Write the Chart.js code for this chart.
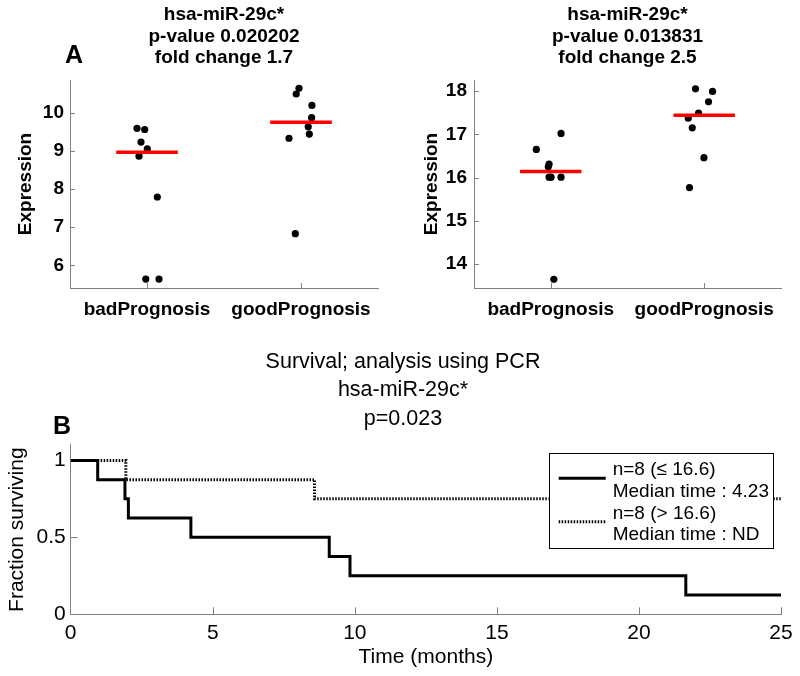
<!DOCTYPE html>
<html><head><meta charset="utf-8">
<script src="https://cdn.jsdelivr.net/npm/chart.js@4/dist/chart.umd.min.js"></script>
<style>
html,body{margin:0;padding:0;background:#fff;overflow:hidden;}
#wrap{position:relative;width:800px;height:676px;background:#fff;}
canvas{position:absolute;}
.panel{position:absolute;font:bold 25px "Liberation Sans",Arial,sans-serif;line-height:1;color:#000;}
</style></head><body>
<div id="wrap">
<canvas id="c1" width="400" height="330" style="left:0;top:0;width:400px;height:330px"></canvas>
<canvas id="c2" width="400" height="330" style="left:400px;top:0;width:400px;height:330px"></canvas>
<canvas id="c3" width="800" height="336" style="left:0;top:340px;width:800px;height:336px"></canvas>
<div class="panel" style="left:65px;top:42px">A</div>
<div class="panel" style="left:53px;top:413px">B</div>
</div>
<script>
// ---------- data ----------
const categories = ['badPrognosis', 'goodPrognosis'];

// panel A, left: microarray expression
const arrayTitle = ['hsa-miR-29c*', 'p-value 0.020202', 'fold change 1.7'];
const arrayBadJitter = [0.935, 0.985, 0.961, 1.002, 0.948, 1.067, 0.992, 1.078];
const arrayBadExpr   = [9.59, 9.56, 9.23, 9.05, 8.86, 7.79, 5.64, 5.64];
const arrayGoodJitter = [1.987, 1.969, 2.071, 2.069, 2.047, 2.054, 1.922, 1.963];
const arrayGoodExpr   = [10.64, 10.49, 10.19, 9.87, 9.63, 9.44, 9.33, 6.83];
const arrayMedians = [8.96, 9.75];
const arrayYTicks = [6, 7, 8, 9, 10];

// panel A, right: PCR expression
const pcrTitle = ['hsa-miR-29c*', 'p-value 0.013831', 'fold change 2.5'];
const pcrBadJitter = [1.067, 0.906, 0.989, 0.984, 0.989, 1.002, 1.067, 1.020];
const pcrBadExpr   = [17.02, 16.65, 16.31, 16.25, 16.01, 16.01, 16.01, 13.65];
const pcrGoodJitter = [1.943, 2.054, 2.028, 1.963, 1.896, 1.922, 1.998, 1.904];
const pcrGoodExpr   = [18.05, 17.99, 17.75, 17.49, 17.37, 17.15, 16.46, 15.77];
const pcrMedians = [16.14, 17.44];
const pcrYTicks = [14, 15, 16, 17, 18];

// panel B: Kaplan-Meier survival
const survTitle = ['Survival; analysis using PCR', 'hsa-miR-29c*', 'p=0.023'];
const lowTimes = [0, 0.95, 1.91, 2.03, 4.23, 9.1, 9.83, 21.65, 25];
const lowSurv  = [1, 0.875, 0.75, 0.625, 0.5, 0.375, 0.25, 0.125, 0.125];
const highTimes = [0, 1.94, 8.58, 25];
const highSurv  = [1, 0.875, 0.75, 0.75];
const lowLegend  = ['n=8 (\u2264 16.6)', 'Median time : 4.23'];
const highLegend = ['n=8 (> 16.6)', 'Median time : ND'];
const timeTicks = [0, 5, 10, 15, 20, 25];
const survTicks = [0, 0.5, 1];

// ---------- setup ----------
const FONT = '"Liberation Sans", Arial, Helvetica, sans-serif';
Chart.defaults.font.family = FONT;
Chart.defaults.color = '#000';
const AXIS = '#808080';
const pts = (xs, ys) => xs.map((x, i) => ({x, y: ys[i]}));

const inTicks = {
  id: 'inTicks',
  beforeDatasetsDraw(chart, args, o) {
    const {ctx, chartArea: a, scales: {x, y}} = chart;
    ctx.save();
    ctx.strokeStyle = o.color; ctx.lineWidth = 1;
    ctx.beginPath();
    x.ticks.forEach(t => {
      const p = Math.round(x.getPixelForValue(t.value)) + 0.5;
      if (p > a.left + 2) { ctx.moveTo(p, a.bottom); ctx.lineTo(p, a.bottom - o.len); }
    });
    y.ticks.forEach(t => {
      const p = Math.round(y.getPixelForValue(t.value)) + 0.5;
      if (p < a.bottom - 2) { ctx.moveTo(a.left, p); ctx.lineTo(a.left + o.len, p); }
    });
    ctx.stroke();
    ctx.restore();
  }
};

const kmLegend = {
  id: 'kmLegend',
  afterDatasetsDraw(chart, args, o) {
    const {ctx, chartArea: a} = chart;
    const ds = chart.data.datasets;
    ctx.save();
    ctx.font = o.fontSize + 'px ' + FONT;
    let tw = 0;
    ds.forEach(d => d.label.forEach(l => { tw = Math.max(tw, ctx.measureText(l).width); }));
    const rows = ds.reduce((n, d) => n + d.label.length, 0);
    const w = o.padL + o.sample + o.gap + tw + o.padR;
    const h = o.padT + rows * o.step + o.padB;
    const x0 = a.right - o.margin - w, y0 = a.top + o.margin;
    ctx.fillStyle = '#fff';
    ctx.fillRect(x0, y0, w, h);
    ctx.strokeStyle = '#000'; ctx.lineWidth = 1;
    ctx.strokeRect(Math.round(x0) + 0.5, Math.round(y0) + 0.5, Math.round(w), Math.round(h));
    let r = 0;
    ds.forEach(d => {
      const cy = y0 + o.padT + (r + d.label.length / 2) * o.step - o.lift;
      ctx.beginPath();
      ctx.setLineDash(d.borderDash || []);
      ctx.lineWidth = d.borderWidth; ctx.strokeStyle = d.borderColor;
      ctx.moveTo(x0 + o.padL, cy); ctx.lineTo(x0 + o.padL + o.sample, cy);
      ctx.stroke();
      ctx.setLineDash([]);
      ctx.fillStyle = '#000'; ctx.textBaseline = 'middle'; ctx.textAlign = 'left';
      d.label.forEach(l => {
        ctx.fillText(l, x0 + o.padL + o.sample + o.gap, y0 + o.padT + (r + 0.5) * o.step);
        r++;
      });
    });
    ctx.restore();
  }
};

function exprChart(id, c) {
  const half = 0.2;
  const medLine = (i) => ({
    type: 'line',
    data: [{x: i + 1 - half, y: c.med[i]}, {x: i + 1 + half, y: c.med[i]}],
    borderColor: '#ff0000', borderWidth: 3.5, pointRadius: 0, showLine: true, fill: false
  });
  const dots = (xs, ys) => ({
    data: pts(xs, ys), pointRadius: 3.6, pointBackgroundColor: '#000',
    pointBorderWidth: 0, backgroundColor: '#000', borderColor: '#000'
  });
  return new Chart(document.getElementById(id), {
    type: 'scatter',
    data: { datasets: [medLine(0), medLine(1), dots(c.badX, c.badY), dots(c.goodX, c.goodY)] },
    options: {
      responsive: false, animation: false, events: [],
      layout: { padding: { left: 0, right: c.padRight, top: 0, bottom: 0 } },
      scales: {
        x: {
          type: 'linear', min: 0.5, max: 2.5,
          afterBuildTicks: s => { s.ticks = categories.map((_, i) => ({value: i + 1})); },
          afterFit: s => { s.height = 42; },
          grid: { display: false, drawTicks: false },
          border: { display: true, color: AXIS, width: 1 },
          ticks: { callback: v => categories[Math.round(v) - 1], font: { size: 19, weight: 'bold' },
                   padding: 10.5, maxRotation: 0, autoSkip: false, color: '#000' }
        },
        y: {
          min: c.yMin, max: c.yMax,
          afterBuildTicks: s => { s.ticks = c.yTicks.map(v => ({value: v})); },
          afterFit: s => { s.width = c.yWidth; },
          grid: { display: false, drawTicks: false },
          border: { display: true, color: AXIS, width: 1 },
          ticks: { font: { size: 19, weight: 'bold' }, padding: c.tickPad, color: '#000', callback: v => String(v) },
          title: { display: true, text: 'Expression', color: '#000', font: { size: 19, weight: 'bold' },
                   padding: { top: c.titlePad, bottom: 0 } }
        }
      },
      plugins: {
        legend: { display: false }, tooltip: { enabled: false },
        title: { display: true, text: c.title, fullSize: false, color: '#000',
                 font: { size: 19, weight: 'bold', lineHeight: 21.5 / 19 },
                 padding: { top: 4.25, bottom: 11.25 } },
        inTicks: { len: 5, color: AXIS }
      }
    },
    plugins: [inTicks]
  });
}

exprChart('c1', {
  title: arrayTitle, badX: arrayBadJitter, badY: arrayBadExpr, goodX: arrayGoodJitter, goodY: arrayGoodExpr,
  med: arrayMedians, yMin: 5.405, yMax: 10.857, yTicks: arrayYTicks,
  yWidth: 70, padRight: 22, tickPad: 6, titlePad: 14.6
});
exprChart('c2', {
  title: pcrTitle, badX: pcrBadJitter, badY: pcrBadExpr, goodX: pcrGoodJitter, goodY: pcrGoodExpr,
  med: pcrMedians, yMin: 13.45, yMax: 18.254, yTicks: pcrYTicks,
  yWidth: 74, padRight: 19, tickPad: 7, titlePad: 20.3
});

new Chart(document.getElementById('c3'), {
  type: 'line',
  data: { datasets: [
    { label: lowLegend, data: pts(lowTimes, lowSurv), stepped: true, borderColor: '#000', borderWidth: 3,
      pointRadius: 0, fill: false },
    { label: highLegend, data: pts(highTimes, highSurv), stepped: true, borderColor: '#000', borderWidth: 3,
      borderDash: [1.5, 1.5], pointRadius: 0, fill: false }
  ]},
  options: {
    responsive: false, animation: false, events: [],
    layout: { padding: { left: 25, right: 19, top: 0, bottom: 0 } },
    scales: {
      x: {
        type: 'linear', min: 0, max: 25,
        afterBuildTicks: s => { s.ticks = timeTicks.map(v => ({value: v})); },
        afterFit: s => { s.height = 61.7; },
        grid: { display: false, drawTicks: false },
        border: { display: true, color: AXIS, width: 1 },
        ticks: { font: { size: 21 }, padding: 6, color: '#000', maxRotation: 0, autoSkip: false },
        title: { display: true, text: 'Time (months)', font: { size: 21 }, color: '#000', padding: { top: 0, bottom: 6.4 } }
      },
      y: {
        type: 'linear', min: 0, max: 1.1,
        afterBuildTicks: s => { s.ticks = survTicks.map(v => ({value: v})); },
        afterFit: s => { s.width = 45.7; },
        grid: { display: false, drawTicks: false },
        border: { display: true, color: AXIS, width: 1 },
        ticks: { font: { size: 21 }, padding: 5, color: '#000', callback: v => String(v) },
        title: { display: true, text: 'Fraction surviving', font: { size: 21 }, color: '#000', padding: { top: -20.6, bottom: 0 } }
      }
    },
    plugins: {
      legend: { display: false }, tooltip: { enabled: false },
      title: { display: true, text: survTitle, fullSize: true, color: '#000',
               font: { size: 21.5, weight: 'normal', lineHeight: 28.5 / 21.5 },
               padding: { top: 7.75, bottom: 11.75 } },
      inTicks: { len: 7, color: AXIS },
      kmLegend: { fontSize: 19, margin: 8, padL: 10, sample: 47, gap: 7, padR: 4, padT: 6.15, step: 21.7, padB: 2, lift: 2.5 }
    }
  },
  plugins: [inTicks, kmLegend]
});
</script>
</body></html>
